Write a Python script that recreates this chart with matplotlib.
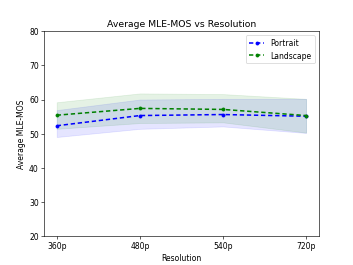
import matplotlib
matplotlib.use("Agg")
import matplotlib.pyplot as plt
import numpy as np

resolutions = ["360p", "480p", "540p", "720p"]
portrait = [52.3, 55.3, 55.6, 55.1]
portrait_low = [49.0, 51.4, 52.1, 50.2]
portrait_high = [56.9, 60.0, 60.2, 60.2]
landscape = [55.4, 57.4, 57.1, 55.3]
landscape_low = [51.4, 53.1, 53.3, 50.3]
landscape_high = [59.2, 61.8, 61.6, 60.2]

fig, ax = plt.subplots(figsize=(6.4, 4.8), dpi=55.3)
x = np.arange(len(resolutions))
ax.plot(x, portrait, 'b.--', label='Portrait', lw=2.0, ms=8, dashes=(2.8, 1.8))
ax.fill_between(x, portrait_low, portrait_high, color='b', alpha=0.1)
ax.plot(x, landscape, 'g.--', label='Landscape', lw=2.0, ms=8, dashes=(2.8, 1.8))
ax.fill_between(x, landscape_low, landscape_high, color='g', alpha=0.1)
ax.set_xticks(x)
ax.set_xticklabels(resolutions)
ax.set_ylim(20, 80)
ax.set_xlabel('Resolution')
ax.set_ylabel('Average MLE-MOS')
ax.set_title('Average MLE-MOS vs Resolution')
ax.legend(loc='upper right')
fig.savefig('out.png', dpi=55.3)
